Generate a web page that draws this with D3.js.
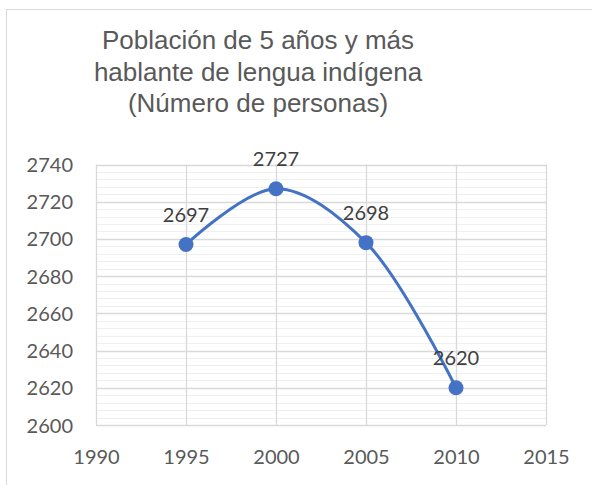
<!DOCTYPE html>
<html>
<head>
<meta charset="utf-8">
<script src="https://cdn.jsdelivr.net/npm/d3@7"></script>
<style>
  body { margin: 0; background: #fff; }
</style>
</head>
<body>
<script>
// data
var years = [1995, 2000, 2005, 2010];
var values = [2697, 2727, 2698, 2620];
var xTicks = [1990, 1995, 2000, 2005, 2010, 2015];
var yTicks = [2600, 2620, 2640, 2660, 2680, 2700, 2720, 2740];
var titleLines = ["Población de 5 años y más", "hablante de lengua indígena", "(Número de personas)"];

var w = 592, h = 485;
var svg = d3.select("body").append("svg")
  .attr("width", w)
  .attr("height", h);

// outer chart frame (runs off the right/bottom)
svg.append("rect")
  .attr("x", 6.5).attr("y", 9.5)
  .attr("width", w + 20).attr("height", h + 20)
  .attr("fill", "none")
  .attr("stroke", "#d9d9d9");

var x = d3.scaleLinear().domain([1990, 2015]).range([96, 546]);
var y = d3.scaleLinear().domain([2600, 2740]).range([425, 164.5]);

// minor horizontal grid, every 4
var minor = d3.range(2600, 2741, 4).filter(function(v){ return v % 20 != 0; });
svg.append("g").selectAll("line")
  .data(minor)
  .join("line")
  .attr("x1", x(1990)).attr("x2", x(2015))
  .attr("y1", function(d){ return Math.round(y(d)) + 0.5; })
  .attr("y2", function(d){ return Math.round(y(d)) + 0.5; })
  .attr("stroke", "#f0f0f0")
  .attr("stroke-width", 1);

// major grid
svg.append("g").selectAll("line")
  .data(yTicks)
  .join("line")
  .attr("x1", x(1990)).attr("x2", x(2015))
  .attr("y1", function(d){ return Math.round(y(d)) + 0.5; })
  .attr("y2", function(d){ return Math.round(y(d)) + 0.5; })
  .attr("stroke", "#d9d9d9")
  .attr("stroke-width", 1.3);

svg.append("g").selectAll("line")
  .data(xTicks)
  .join("line")
  .attr("y1", y(2600)).attr("y2", y(2740))
  .attr("x1", function(d){ return Math.round(x(d)) + 0.5; })
  .attr("x2", function(d){ return Math.round(x(d)) + 0.5; })
  .attr("stroke", "#d9d9d9")
  .attr("stroke-width", 1.3);

// axes
var yAxis = svg.append("g")
  .attr("transform", "translate(" + (x(1990) - 23) + ",0)")
  .call(d3.axisLeft(y).tickValues(yTicks).tickSize(0).tickPadding(0).tickFormat(d3.format("d")));
var xAxis = svg.append("g")
  .attr("transform", "translate(0," + (y(2600) + 24) + ")")
  .call(d3.axisBottom(x).tickValues(xTicks).tickSize(0).tickPadding(0).tickFormat(d3.format("d")));
[yAxis, xAxis].forEach(function(a){
  a.select(".domain").remove();
  a.selectAll("text")
    .attr("fill", "#595959")
    .style("font-family", "Lato, 'Open Sans', sans-serif")
    .style("font-size", "20px");
});
yAxis.selectAll("text").attr("dy", "0.35em");
xAxis.selectAll("text").attr("dy", "0.75em");

// smoothed line
var line = d3.line()
  .x(function(d, i){ return x(years[i]); })
  .y(function(d){ return y(d); })
  .curve(d3.curveCatmullRom);
svg.append("path")
  .datum(values)
  .attr("d", line)
  .attr("fill", "none")
  .attr("stroke", "#4472c4")
  .attr("stroke-width", 3);

svg.append("g").selectAll("circle")
  .data(values)
  .join("circle")
  .attr("cx", function(d, i){ return x(years[i]); })
  .attr("cy", function(d){ return y(d); })
  .attr("r", 7.5)
  .attr("fill", "#4472c4");

svg.append("g").selectAll("text")
  .data(values)
  .join("text")
  .attr("x", function(d, i){ return x(years[i]); })
  .attr("y", function(d){ return y(d) - 23; })
  .attr("text-anchor", "middle")
  .attr("fill", "#404040")
  .style("font-family", "Lato, 'Open Sans', sans-serif")
  .style("font-size", "20px")
  .text(function(d){ return d; });

// title
svg.append("g").selectAll("text")
  .data(titleLines)
  .join("text")
  .attr("x", 258)
  .attr("y", function(d, i){ return 49 + i * 31.5; })
  .attr("text-anchor", "middle")
  .attr("fill", "#595959")
  .style("font-family", "'Liberation Sans', Arial, sans-serif")
  .style("font-size", "26px")
  .text(function(d){ return d; });
</script>
</body>
</html>
